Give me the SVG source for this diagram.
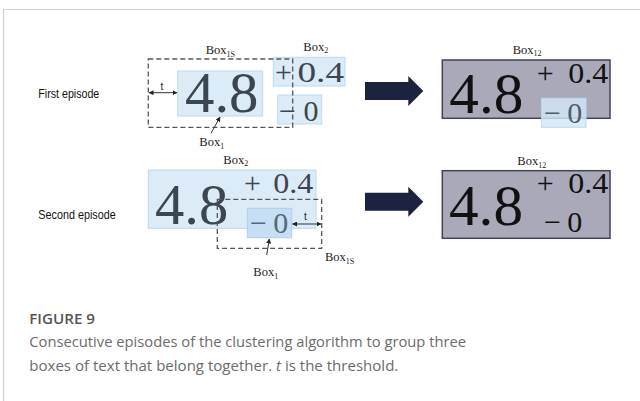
<svg xmlns="http://www.w3.org/2000/svg" width="640" height="401" viewBox="0 0 640 401">
<defs>
<marker id="ah" viewBox="0 0 10 10" refX="9" refY="5" markerWidth="5" markerHeight="5" orient="auto-start-reverse" markerUnits="userSpaceOnUse"><path d="M0,0 L10,5 L0,10 z" fill="#222"/></marker>
<style>
.lbl{font-family:"Liberation Serif","Times New Roman",serif;font-size:12.5px;fill:#222}
.sub{font-size:8px}
.big{font-family:"Liberation Serif","Times New Roman",serif;font-size:57px}
.sm{font-family:"Liberation Serif","Times New Roman",serif;font-size:30px}
.slate{fill:#3b4652}
.slate2{fill:#56687a}
.blk{fill:#111}
.blue{fill:#dcebf8;stroke:#bcd9f1;stroke-width:1}
.blue2{fill:#c6dff4;stroke:#b0d0ec;stroke-width:1}
.dash{fill:none;stroke:#555;stroke-width:1.3;stroke-dasharray:5,3}
.res{fill:#aaa9ba;stroke:#3f4459;stroke-width:1.5}
.ep{font-family:"Liberation Sans",Arial,sans-serif;font-size:12.5px;fill:#111}
.tt{font-family:"Liberation Sans",Arial,sans-serif;font-size:10px;fill:#222}
.dim{stroke:#333;stroke-width:1;fill:none}
.cap{font-family:"Open Sans","Liberation Sans",sans-serif;fill:#6b6b6b}
.fat{fill:#1c2340}
</style>
</defs>
<rect x="0" y="0" width="640" height="401" fill="#fff"/>
<path d="M3.5,401 V9.5 H640" fill="none" stroke="#d2d2d2" stroke-width="1.2"/>

<text class="ep" x="38.3" y="98.3" textLength="61" lengthAdjust="spacingAndGlyphs">First episode</text>
<text class="ep" x="38.3" y="219.3" textLength="77.4" lengthAdjust="spacingAndGlyphs">Second episode</text>

<!-- Episode 1 -->
<g id="ep1-box1">
<rect class="blue" x="177.7" y="71" width="85" height="45"/>
<text class="big slate" x="185" y="111.7" textLength="73.5" lengthAdjust="spacingAndGlyphs">4.8</text>
<text class="lbl" x="199.3" y="146.2">Box<tspan class="sub" dy="2.5">1</tspan></text>
</g>
<g id="ep1-box2">
<rect class="blue" x="273.3" y="57.3" width="71.7" height="28.7"/>
<rect class="blue" x="277.7" y="95" width="44" height="29"/>
<text class="sm slate" x="275" y="81.7">+</text>
<text class="sm slate" x="297.5" y="81.7" textLength="46.5" lengthAdjust="spacingAndGlyphs">0.4</text>
<text class="sm slate" x="279" y="120.5">−</text>
<text class="sm slate" x="303.5" y="120.5">0</text>
<text class="lbl" x="303.3" y="50.5">Box<tspan class="sub" dy="2.5">2</tspan></text>
</g>
<g id="ep1-box1s">
<rect class="dash" x="148.3" y="59" width="144.4" height="68.3"/>
<text class="lbl" x="205.7" y="54">Box<tspan class="sub" dy="2.5">1S</tspan></text>
<text class="tt" x="160.5" y="90">t</text>
</g>

<!-- Episode 2 -->
<g id="ep2-box2">
<rect class="blue" x="148.3" y="170" width="167.7" height="58.3"/>
<text class="big slate" x="155" y="224" textLength="73.3" lengthAdjust="spacingAndGlyphs">4.8</text>
<text class="sm slate" x="244" y="193.3">+</text>
<text class="sm slate" x="273.3" y="193.3" textLength="40" lengthAdjust="spacingAndGlyphs">0.4</text>
<text class="lbl" x="223.3" y="163.5">Box<tspan class="sub" dy="2.5">2</tspan></text>
</g>
<g id="ep2-box1">
<rect class="blue2" x="247.3" y="208.3" width="44.4" height="29.4"/>
<text class="sm slate2" x="250" y="233.3">−</text>
<text class="sm slate2" x="273.3" y="233.3">0</text>
<text class="lbl" x="253.3" y="276.2">Box<tspan class="sub" dy="2.5">1</tspan></text>
</g>
<g id="ep2-box1s">
<rect class="dash" x="217.3" y="199.3" width="104.4" height="49"/>
<text class="lbl" x="325" y="261">Box<tspan class="sub" dy="2.5">1S</tspan></text>
<text class="tt" x="304" y="220">t</text>
</g>

<!-- Results -->
<g id="res1">
<rect class="res" x="442.3" y="60" width="167.7" height="58.3"/>
<text class="big blk" x="449.3" y="113.3" textLength="74" lengthAdjust="spacingAndGlyphs">4.8</text>
<text class="sm blk" x="536.7" y="83.3">+</text>
<text class="sm blk" x="568.3" y="83.3" textLength="40" lengthAdjust="spacingAndGlyphs">0.4</text>
<rect x="541.7" y="98.3" width="44.3" height="29" fill="#d3e6f7" fill-opacity="0.82" stroke="#bcd9f1" stroke-width="1"/>
<text class="sm" fill="#4e5d6e" x="544" y="123.3">−</text>
<text class="sm" fill="#4e5d6e" x="567.3" y="123.3">0</text>
<text class="lbl" x="512.7" y="53.5">Box<tspan class="sub" dy="2.5">12</tspan></text>
</g>
<g id="res2">
<rect class="res" x="442.3" y="170.7" width="167.7" height="67.6"/>
<text class="big blk" x="449" y="225" textLength="74" lengthAdjust="spacingAndGlyphs">4.8</text>
<text class="sm blk" x="536.7" y="193.3">+</text>
<text class="sm blk" x="568.3" y="193.3" textLength="40" lengthAdjust="spacingAndGlyphs">0.4</text>
<text class="sm blk" x="544" y="231.7">−</text>
<text class="sm blk" x="567.3" y="231.7">0</text>
<text class="lbl" x="517.3" y="165">Box<tspan class="sub" dy="2.5">12</tspan></text>
</g>

<g id="connectors">
<line class="dim" x1="149" y1="92.7" x2="177" y2="92.7" marker-start="url(#ah)" marker-end="url(#ah)"/>
<line class="dim" x1="211" y1="133.3" x2="220" y2="117" marker-end="url(#ah)"/>
<line class="dim" x1="292.5" y1="224" x2="321" y2="224" marker-start="url(#ah)" marker-end="url(#ah)"/>
<line class="dim" x1="266.7" y1="255" x2="269.3" y2="239" marker-end="url(#ah)"/>
<polygon class="fat" points="365,82 408.3,82 408.3,76 423.3,91 408.3,106 408.3,100 365,100"/>
<polygon class="fat" points="365,192.7 408.3,192.7 408.3,186.7 423.3,201.7 408.3,216.7 408.3,210.7 365,210.7"/>
</g>

<g id="caption">
<text class="cap" x="29.3" y="324" font-size="15" font-weight="600" style="fill:#555" textLength="65.7" lengthAdjust="spacingAndGlyphs">FIGURE 9</text>
<text class="cap" x="29.3" y="347" font-size="14" textLength="436.7" lengthAdjust="spacingAndGlyphs">Consecutive episodes of the clustering algorithm to group three</text>
<text class="cap" x="29.3" y="371" font-size="14" textLength="369" lengthAdjust="spacingAndGlyphs">boxes of text that belong together. <tspan font-style="italic">t</tspan> is the threshold.</text>
</g>
</svg>
